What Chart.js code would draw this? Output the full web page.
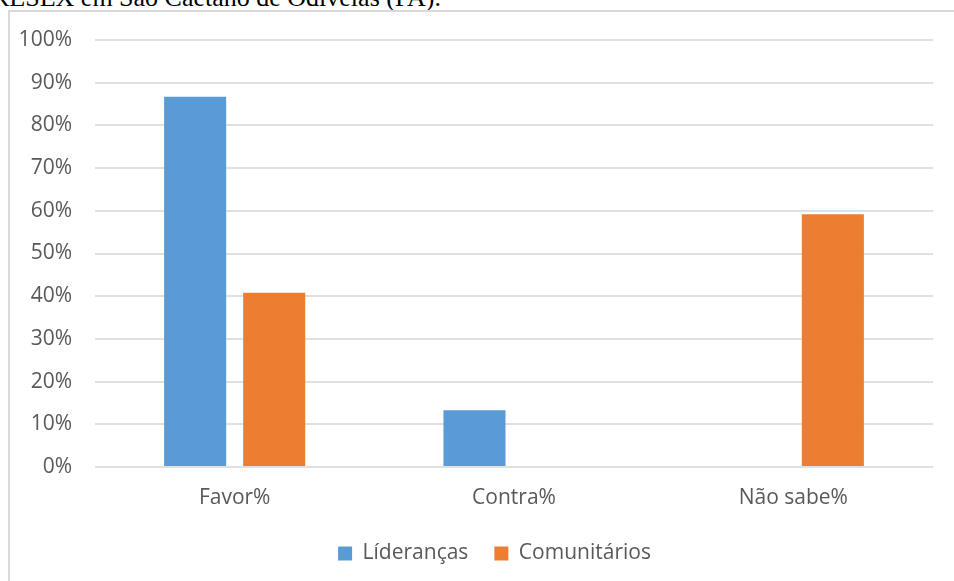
<!DOCTYPE html>
<html>
<head>
<meta charset="utf-8">
<script src="https://cdn.jsdelivr.net/npm/chart.js@4.4.1/dist/chart.umd.min.js"></script>
<style>
  html, body { margin: 0; padding: 0; background: #fff; overflow: hidden; }
  #page { position: relative; width: 954px; height: 581px; overflow: hidden; }
  #caption {
    position: absolute; left: -8px; top: -15px;
    font-family: "Liberation Serif", "Times New Roman", serif;
    font-size: 26px; line-height: 26px; color: #000; white-space: nowrap;
  }
  #frame {
    position: absolute; left: 8px; top: 10px; width: 1000px; height: 700px;
    border: 2px solid #d9d9d9; box-sizing: border-box;
  }
  #wrap { position: absolute; left: 0; top: 0; width: 954px; height: 581px; }
</style>
</head>
<body>
<div id="page">
  <div id="caption">RESEX em São Caetano de Odivelas (PA).</div>
  <div id="frame"></div>
  <div id="wrap"><canvas id="chart"></canvas></div>
</div>
<script>
// dados
const categorias = ['Favor%', 'Contra%', 'Não sabe%'];
const liderancas = [86.7, 13.3, 0];
const comunitarios = [40.8, 0, 59.2];
const seriesNomes = ['Líderanças', 'Comunitários'];

const CINZA = '#595959';
const GRADE = '#e0e0e0';
const fonte = { family: '"Open Sans", "Liberation Sans", sans-serif', size: 21 };

// a legenda do original fica um pouco à direita do centro do canvas
const moverLegenda = {
  id: 'moverLegenda',
  afterLayout(chart) {
    if (!chart.legend) return;
    chart.legend.left += 28;
    chart.legend.right += 28;
  }
};

new Chart(document.getElementById('chart'), {
  type: 'bar',
  data: {
    labels: categorias,
    datasets: [
      { label: seriesNomes[0], data: liderancas, backgroundColor: '#5b9bd5' },
      { label: seriesNomes[1], data: comunitarios, backgroundColor: '#ed7d31' }
    ]
  },
  options: {
    responsive: true,
    maintainAspectRatio: false,
    animation: false,
    datasets: { bar: { categoryPercentage: 0.566, barPercentage: 0.785 } },
    layout: { padding: { left: 0, right: 21, top: 40, bottom: 7 } },
    scales: {
      x: {
        afterFit: (s) => { s.height = 50; },
        grid: { display: false, drawTicks: false },
        border: { display: false },
        ticks: { color: CINZA, font: fonte, padding: 18 }
      },
      y: {
        min: 0, max: 100,
        afterFit: (s) => { s.width = 95; },
        grid: { color: GRADE, lineWidth: 2, drawTicks: false },
        border: { display: false },
        ticks: {
          stepSize: 10, color: CINZA, font: fonte, padding: 23,
          callback: (v) => v + '%'
        }
      }
    },
    plugins: {
      legend: {
        position: 'bottom',
        labels: {
          color: CINZA, font: fonte,
          boxWidth: 14, boxHeight: 14, padding: 26,
          useBorderRadius: false
        }
      },
      tooltip: { enabled: false }
    }
  },
  plugins: [moverLegenda]
});
</script>
</body>
</html>
